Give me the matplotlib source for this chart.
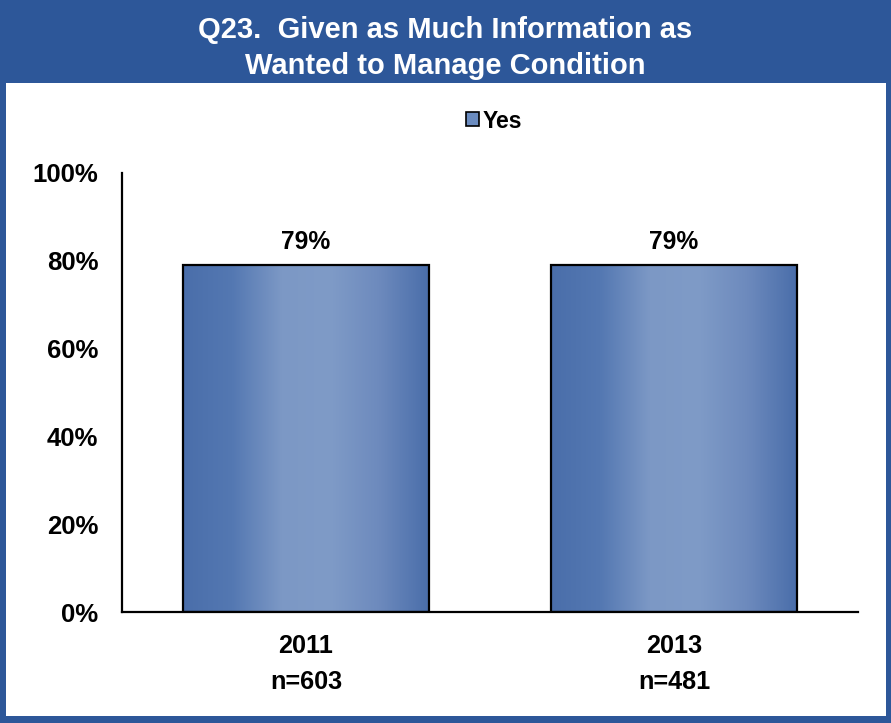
import numpy as np
import matplotlib.pyplot as plt
from matplotlib.patches import Rectangle
from matplotlib.colors import LinearSegmentedColormap

# data
years = ['2011', '2013']
sample_sizes = ['n=603', 'n=481']
yes_pct = [79, 79]

plt.rcParams['font.family'] = ['Liberation Sans', 'DejaVu Sans']
plt.rcParams['font.weight'] = 'bold'

frame_blue = '#2d5799'
fig = plt.figure(figsize=(8.91, 7.23), dpi=100, facecolor=frame_blue)

# white panel under the title band
fig.patches.append(Rectangle((6 / 891, 7 / 723), 880 / 891, 633 / 723,
                             transform=fig.transFigure, facecolor='white',
                             edgecolor='none', zorder=-10))

fig.text(0.5, 1 - 48 / 723, 'Q23.  Given as Much Information as\nWanted to Manage Condition',
         ha='center', va='center', color='white', fontsize=21, fontweight='bold',
         linespacing=1.32)

ax = fig.add_axes([122 / 891, 111 / 723, 736 / 891, 439 / 723])
ax.set_facecolor('none')

x = np.arange(len(years))
width = 0.667
bars = ax.bar(x, yes_pct, width, color='#5b7fb8', edgecolor='black', linewidth=1.6,
              label='Yes', zorder=3)

# horizontal gradient inside each bar
cmap = LinearSegmentedColormap.from_list('bar', ['#4a6eaa', '#5478b2', '#7c98c5', '#7f9bc7', '#6d8abd', '#4a6eaa'])
grad = np.linspace(0, 1, 256).reshape(1, -1)
for b in bars:
    x0, w, h = b.get_x(), b.get_width(), b.get_height()
    im = ax.imshow(grad, cmap=cmap, extent=[x0, x0 + w, 0, h], aspect='auto', zorder=2)
    im.set_clip_path(b)
    b.set_facecolor('none')

for xi, v in zip(x, yes_pct):
    ax.text(xi, v + 2.6, f'{v}%', ha='center', va='bottom', fontsize=17.7, fontweight='bold')

ax.set_xlim(-0.5, 1.5)
ax.set_ylim(0, 100)
ax.set_yticks(range(0, 101, 20))
ax.set_yticklabels([f'{t}%' for t in range(0, 101, 20)], fontsize=18.5, fontweight='bold')
ax.set_xticks(x)
ax.set_xticklabels([f'{y}\n{n}' for y, n in zip(years, sample_sizes)], fontsize=18.2,
                   fontweight='bold', linespacing=1.6)
ax.tick_params(axis='y', length=0, pad=17)
ax.tick_params(axis='x', length=0, pad=16)
for s in ['top', 'right']:
    ax.spines[s].set_visible(False)
ax.spines['left'].set_linewidth(1.6)
ax.spines['bottom'].set_linewidth(1.6)

leg = ax.legend(loc='center', bbox_to_anchor=(494 / 891, 1 - 121 / 723),
                bbox_transform=fig.transFigure, frameon=False, fontsize=16.5,
                handlelength=0.55, handleheight=0.55, handletextpad=0.15)
for h in leg.legend_handles:
    h.set_facecolor('#6b8cc0')
    h.set_edgecolor('black')
    h.set_linewidth(1.2)

fig.savefig('out.png', dpi=100, facecolor=frame_blue)
